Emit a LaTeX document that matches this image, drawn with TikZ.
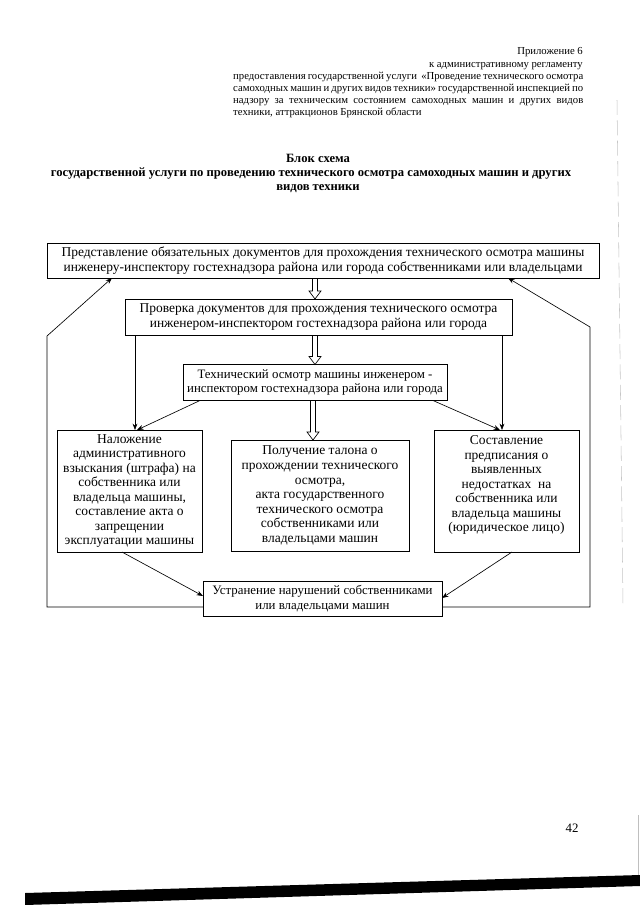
\documentclass[tikz,border=0pt]{standalone}
\usepackage{fontspec}
\setmainfont{Liberation Serif}
\usetikzlibrary{arrows.meta,calc}
\newcommand\hollowarrow[2]{%
  \draw[hollow] ($(#1)+(-2.5,0)$) -- ($(#2)+(-2.5,-8)$) -- ($(#2)+(-6,-8)$) -- (#2)
    -- ($(#2)+(6,-8)$) -- ($(#2)+(2.5,-8)$) -- ($(#1)+(2.5,0)$);}
\begin{document}
\begin{tikzpicture}[x=0.934pt,y=-0.934pt,
  box/.style={draw=black,line width=0.7pt,inner sep=0pt,outer sep=0pt,align=center,
    font=\fontsize{12.6pt}{13.6pt}\selectfont},
  smallbox/.style={box,font=\fontsize{12pt}{13.6pt}\selectfont},
  hdr/.style={inner sep=0pt,font=\fontsize{10pt}{11.2pt}\selectfont},
  ttl/.style={inner sep=0pt,align=center,font=\fontsize{11.8pt}{13.1pt}\selectfont\bfseries},
  conn/.style={draw=black,line width=0.6pt,-{Stealth[length=6pt,width=4.5pt]}},
  hollow/.style={draw=black,line width=0.6pt,line join=miter}]
\fill[white] (0,0) rectangle (640,905);
\useasboundingbox (0,0) rectangle (640,905);

% header
\node[hdr,anchor=base east] (h1) at (583,54) {Приложение 6};
\node[hdr,anchor=base east] (h2) at (583,67) {к административному регламенту};
\node[hdr,anchor=base west] (h3) at (233,79) {\makebox[327pt][s]{предоставления государственной услуги \ «Проведение технического осмотра}};
\node[hdr,anchor=base west] (h4) at (233,91) {\makebox[327pt][s]{самоходных машин и других видов техники» государственной инспекцией по}};
\node[hdr,anchor=base west] (h5) at (233,103) {\makebox[327pt][s]{надзору за техническим состоянием самоходных машин и других видов}};
\node[hdr,anchor=base west] (h6) at (233,115) {техники, аттракционов Брянской области};

% title
\node[ttl,anchor=base] (t1) at (318,162) {Блок схема};
\node[ttl,anchor=base] (t2) at (311,176) {государственной услуги по проведению технического осмотра самоходных машин и других};
\node[ttl,anchor=base] (t3) at (318,190) {видов техники};

% boxes
\node[box,minimum width=552*0.934pt,minimum height=35*0.934pt] (b1) at (323,260.5)
  {Представление обязательных документов для прохождения технического осмотра машины\\
   инженеру-инспектору гостехнадзора района или города собственниками или владельцами};
\node[box,minimum width=387*0.934pt,minimum height=36*0.934pt] (b2) at (318.5,317)
  {Проверка документов для прохождения технического осмотра\\
   инженером-инспектором гостехнадзора района или города};
\node[smallbox,minimum width=264*0.934pt,minimum height=36*0.934pt] (b3) at (315,382.5)
  {Технический осмотр машины инженером -\\
   инспектором гостехнадзора района или города};
\node[box,minimum width=145*0.934pt,minimum height=122*0.934pt] (b4) at (129.5,491)
  {Наложение\\административного\\взыскания (штрафа) на\\собственника или\\владельца машины,\\составление акта о\\запрещении\\эксплуатации машины};
\node[box,minimum width=178*0.934pt,minimum height=111*0.934pt] (b5) at (320,495.5)
  {Получение талона о\\прохождении технического\\осмотра,\\акта государственного\\технического осмотра\\собственниками или\\владельцами машин};
\node[box,minimum width=145*0.934pt,minimum height=122*0.934pt] (b6) at (506.5,491)
  {Составление\\предписания о\\выявленных\\недостатках \ на\\собственника или\\владельца машины\\(юридическое лицо)\\\mbox{}};
\node[smallbox,minimum width=239*0.934pt,minimum height=35*0.934pt] (b7) at (322.5,598.5)
  {Устранение нарушений собственниками\\или владельцами машин};

% helper coordinates
\coordinate (xa) at (315,0);
\coordinate (xb) at (313,0);
\coordinate (xl) at (135,0);
\coordinate (xr) at (502,0);
\coordinate (d1s) at (200,0);
\coordinate (d1e) at (137,0);
\coordinate (d2s) at (433,0);
\coordinate (d2e) at (500,0);
\coordinate (d3s) at (122,0);
\coordinate (d4s) at (512,0);
\coordinate (l1) at (112,0);
\coordinate (r1) at (508,0);
\coordinate (y596) at (0,596);
\coordinate (y598) at (0,598);
\coordinate (y607) at (0,607);
\coordinate (lc1) at (47,607);
\coordinate (lc2) at (47,336);
\coordinate (rc1) at (590,607);
\coordinate (rc2) at (590,327);

% hollow arrows
\coordinate (h1s) at (b1.south -| xa);
\coordinate (h1e) at (b2.north -| xa);
\coordinate (h2s) at (b2.south -| xa);
\coordinate (h2e) at (b3.north -| xa);
\coordinate (h3s) at (b3.south -| xb);
\coordinate (h3e) at (b5.north -| xb);
\hollowarrow{h1s}{h1e}
\hollowarrow{h2s}{h2e}
\hollowarrow{h3s}{h3e}

% connectors
\draw[conn] (b2.south -| xl) -- (b4.north -| xl);
\draw[conn] (b2.south -| xr) -- (b6.north -| xr);
\draw[conn] (b3.south -| d1s) -- (b4.north -| d1e);
\draw[conn] (b3.south -| d2s) -- (b6.north -| d2e);
\draw[conn] (b4.south -| d3s) -- (b7.west |- y596);
\draw[conn] (b6.south -| d4s) -- (b7.east |- y598);
\draw[conn] (b7.west |- y607) -- (lc1) -- (lc2) -- (b1.south -| l1);
\draw[conn] (b7.east |- y607) -- (rc1) -- (rc2) -- (b1.south -| r1);

% page number
\node[inner sep=0pt,anchor=base,font=\fontsize{12pt}{13.6pt}\selectfont] (pn) at (572,832) {42};

% scan artefacts
\draw[gray!45,line width=0.5pt,dash pattern=on 14pt off 5pt] (617,100) -- (623,605);
\draw[gray!50,line width=0.6pt] (638,815) -- (638,878);
\fill[black] (25,893) -- (640,875) -- (640,886) -- (25,905) -- cycle;
\end{tikzpicture}
\end{document}
